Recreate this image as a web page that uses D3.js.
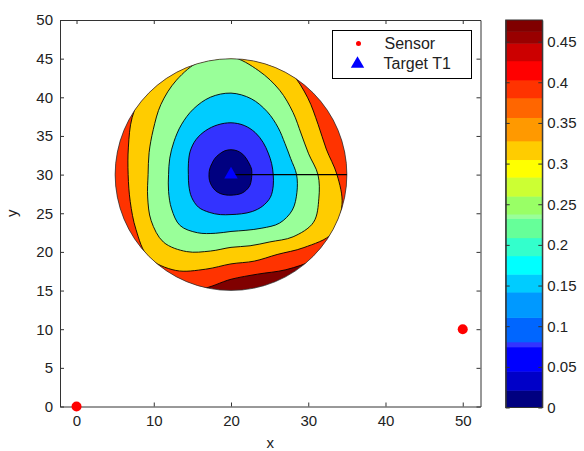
<!DOCTYPE html>
<html>
<head>
<meta charset="utf-8">
<script src="https://cdn.jsdelivr.net/npm/d3@7"></script>
<style>
  body { margin: 0; background: #fff; }
  text { font-family: "Liberation Sans", Arial, Helvetica, sans-serif; fill: #222; }
</style>
</head>
<body>
<svg id="chart" width="584" height="451"></svg>
<script>
// ---- data -------------------------------------------------------------
const xTicks = [0, 10, 20, 30, 40, 50];
const yTicks = [0, 5, 10, 15, 20, 25, 30, 35, 40, 45, 50];
const cbarTicks = [0, 0.05, 0.1, 0.15, 0.2, 0.25, 0.3, 0.35, 0.4, 0.45];

const sensors = [{ x: 0, y: 0 }, { x: 50, y: 10 }];
const target = { x: 20, y: 30 };
const rangeSegment = { x1: 20, y1: 30, x2: 35, y2: 30 };
const regionRadius = 15;

// error field sampled on a polar grid around the target
const sampleAngles = [0, 15, 30, 45, 60, 75, 90, 105, 120, 135, 150, 165,
                      180, 195, 210, 225, 240, 255, 270, 285, 300, 315, 330, 345];
const sampleRadii = [0, 3, 6, 9, 11.5, 14, 16, 18];
const fieldValues = [
  [0, 0.087, 0.171, 0.247, 0.319, 0.399, 0.445, 0.491],
  [0, 0.085, 0.172, 0.265, 0.349, 0.430, 0.458, 0.499],
  [0, 0.085, 0.168, 0.264, 0.344, 0.420, 0.449, 0.488],
  [0, 0.082, 0.159, 0.245, 0.316, 0.389, 0.434, 0.479],
  [0, 0.077, 0.149, 0.225, 0.283, 0.349, 0.410, 0.468],
  [0, 0.074, 0.143, 0.210, 0.262, 0.314, 0.390, 0.452],
  [0, 0.073, 0.141, 0.205, 0.252, 0.291, 0.325, 0.390],
  [0, 0.074, 0.141, 0.209, 0.255, 0.292, 0.325, 0.390],
  [0, 0.077, 0.141, 0.220, 0.265, 0.308, 0.379, 0.450],
  [0, 0.079, 0.144, 0.232, 0.281, 0.339, 0.397, 0.468],
  [0, 0.082, 0.153, 0.249, 0.309, 0.369, 0.423, 0.483],
  [0, 0.082, 0.164, 0.259, 0.326, 0.397, 0.454, 0.511],
  [0, 0.082, 0.170, 0.262, 0.334, 0.411, 0.468, 0.525],
  [0, 0.081, 0.166, 0.252, 0.321, 0.407, 0.468, 0.529],
  [0, 0.081, 0.159, 0.237, 0.297, 0.383, 0.451, 0.519],
  [0, 0.081, 0.157, 0.226, 0.288, 0.358, 0.415, 0.490],
  [0, 0.083, 0.166, 0.242, 0.312, 0.379, 0.449, 0.524],
  [0, 0.086, 0.175, 0.270, 0.355, 0.430, 0.488, 0.546],
  [0, 0.088, 0.182, 0.297, 0.388, 0.486, 0.500, 0.520],
  [0, 0.087, 0.179, 0.292, 0.386, 0.498, 0.510, 0.530],
  [0, 0.084, 0.170, 0.266, 0.375, 0.461, 0.528, 0.550],
  [0, 0.083, 0.162, 0.237, 0.316, 0.416, 0.485, 0.520],
  [0, 0.083, 0.159, 0.230, 0.290, 0.356, 0.415, 0.500],
  [0, 0.086, 0.165, 0.238, 0.305, 0.368, 0.418, 0.505]
];

// contour levels and the colour of each filled band (lowest band first)
const contourLevels = [0.078, 0.156, 0.234, 0.312, 0.39, 0.468];
const bandColors = ["#000080", "#3333FF", "#00CCFF", "#99FF99", "#FFCC00", "#FF3300", "#800000"];

// colour bar: band edges (value units) and colours, bottom to top
const cbarMax = 0.4766;
const cbarEdges = [0, 0.0213, 0.0447, 0.0746, 0.0808, 0.1108, 0.142, 0.164, 0.1867, 0.2089,
                   0.2328, 0.238, 0.260, 0.2834, 0.305, 0.328, 0.3567, 0.381, 0.403, 0.4265,
                   0.448, 0.4626, 0.4766];
const cbarColors = ["#000080", "#0000C8", "#0000FF", "#3333FF", "#0066FF", "#0099FF", "#00CCFF",
                    "#00FFFF", "#33FFCC", "#66FF99", "#99FF99", "#99FF66", "#CCFF33", "#FFFF00",
                    "#FFCC00", "#FF9900", "#FF6600", "#FF3300", "#FF0000", "#CC0000", "#990000",
                    "#800000"];

// ---- layout -----------------------------------------------------------
const svg = d3.select("#chart");
const plot = { left: 60, right: 480.5, top: 20, bottom: 406.5 };
const cbar = { left: 505.7, right: 542.3, top: 20, bottom: 407.5 };

const x = d3.scaleLinear().domain([-2.14, 52.3]).range([plot.left, plot.right]);
const y = d3.scaleLinear().domain([0, 50]).range([plot.bottom, plot.top]);
const c = d3.scaleLinear().domain([0, cbarMax]).range([cbar.bottom, cbar.top]);

svg.append("rect").attr("width", 584).attr("height", 451).attr("fill", "#fff");
svg.append("rect")
  .attr("x", plot.left).attr("y", plot.top)
  .attr("width", plot.right - plot.left).attr("height", plot.bottom - plot.top)
  .attr("fill", "#fff");

// ---- filled contours inside the sensing disc --------------------------
const cxPx = x(target.x), cyPx = y(target.y);
const rPx = x(target.x + regionRadius) - x(target.x);

svg.append("clipPath").attr("id", "disc")
  .append("circle").attr("cx", cxPx).attr("cy", cyPx).attr("r", rPx);

function levelRadius(vals, level) {
  for (let i = 1; i < sampleRadii.length; i++) {
    if (vals[i] >= level) {
      const t = (level - vals[i - 1]) / (vals[i] - vals[i - 1]);
      return sampleRadii[i - 1] + t * (sampleRadii[i] - sampleRadii[i - 1]);
    }
  }
  return sampleRadii[sampleRadii.length - 1];
}

function levelPoints(level) {
  return sampleAngles.map((a, j) => {
    const r = levelRadius(fieldValues[j], level);
    const th = a * Math.PI / 180;
    return [target.x + r * Math.cos(th), target.y + r * Math.sin(th)];
  });
}

const contourPath = d3.line()
  .x(d => x(d[0])).y(d => y(d[1]))
  .curve(d3.curveCatmullRomClosed.alpha(0.5));

const field = svg.append("g").attr("clip-path", "url(#disc)");
field.append("circle").attr("cx", cxPx).attr("cy", cyPx).attr("r", rPx)
  .attr("fill", bandColors[contourLevels.length]);

const levelData = contourLevels.map((L, k) => ({ level: L, k, pts: levelPoints(L) }));

field.selectAll("path.band")
  .data(levelData.slice().reverse())
  .join("path")
  .attr("class", "band")
  .attr("d", d => contourPath(d.pts))
  .attr("fill", d => bandColors[d.k]);

field.selectAll("path.iso")
  .data(levelData)
  .join("path")
  .attr("class", "iso")
  .attr("d", d => contourPath(d.pts))
  .attr("fill", "none")
  .attr("stroke", "#000")
  .attr("stroke-width", 0.9);

svg.append("circle").attr("cx", cxPx).attr("cy", cyPx).attr("r", rPx)
  .attr("fill", "none").attr("stroke", "#333").attr("stroke-width", 0.8);

// range segment and target
svg.append("line")
  .attr("x1", x(rangeSegment.x1)).attr("y1", y(rangeSegment.y1))
  .attr("x2", x(rangeSegment.x2)).attr("y2", y(rangeSegment.y2))
  .attr("stroke", "#000").attr("stroke-width", 1.2);

const tri = d3.symbol().type(d3.symbolTriangle).size(78);
svg.append("path").attr("d", tri())
  .attr("transform", `translate(${x(target.x)},${y(target.y)})`)
  .attr("fill", "#0000FF");

// ---- axes ---------------------------------------------------------------
function styleAxis(g) {
  g.selectAll("path.domain").attr("stroke", "#333");
  g.selectAll(".tick line").attr("stroke", "#333");
  g.selectAll(".tick text").attr("fill", "#222").style("font-size", "15px")
    .style("font-family", '"Liberation Sans", Arial, sans-serif');
}

svg.append("g").attr("transform", `translate(0,${plot.bottom})`)
  .call(d3.axisBottom(x).tickValues(xTicks).tickSizeInner(-4).tickSizeOuter(0).tickPadding(9))
  .call(styleAxis);
svg.append("g").attr("transform", `translate(0,${plot.top})`)
  .call(d3.axisTop(x).tickValues(xTicks).tickSizeInner(-4).tickSizeOuter(0).tickFormat(""))
  .call(styleAxis);
svg.append("g").attr("transform", `translate(${plot.left},0)`)
  .call(d3.axisLeft(y).tickValues(yTicks).tickSizeInner(-4).tickSizeOuter(0).tickPadding(7))
  .call(styleAxis);
svg.append("g").attr("transform", `translate(${plot.right},0)`)
  .call(d3.axisRight(y).tickValues(yTicks).tickSizeInner(-4).tickSizeOuter(0).tickFormat(""))
  .call(styleAxis);

svg.append("text").attr("x", (plot.left + plot.right) / 2).attr("y", 448)
  .attr("text-anchor", "middle").style("font-size", "15px").text("x");
svg.append("text")
  .attr("transform", `translate(17,${(plot.top + plot.bottom) / 2}) rotate(-90)`)
  .attr("text-anchor", "middle").style("font-size", "15px").text("y");

// sensors sit on top of the axes
svg.selectAll("circle.sensor").data(sensors).join("circle")
  .attr("class", "sensor")
  .attr("cx", d => x(d.x)).attr("cy", d => y(d.y)).attr("r", 5)
  .attr("fill", "#FF0000");

// ---- legend ---------------------------------------------------------------
const legend = svg.append("g").attr("transform", "translate(332.5,30.5)");
legend.append("rect").attr("width", 139).attr("height", 48)
  .attr("fill", "#fff").attr("stroke", "#000").attr("stroke-width", 1);
legend.append("circle").attr("cx", 26).attr("cy", 13).attr("r", 2.5).attr("fill", "#FF0000");
legend.append("text").attr("x", 52).attr("y", 18.5).style("font-size", "16px").text("Sensor");
legend.append("path").attr("d", tri()).attr("transform", "translate(25,33.5)").attr("fill", "#0000FF");
legend.append("text").attr("x", 51).attr("y", 38.5).style("font-size", "16px").text("Target T1");

// ---- colour bar -------------------------------------------------------------
const cb = svg.append("g");
cb.selectAll("rect.swatch")
  .data(cbarColors.map((col, i) => ({ col, lo: cbarEdges[i], hi: cbarEdges[i + 1] })))
  .join("rect")
  .attr("class", "swatch")
  .attr("x", cbar.left).attr("width", cbar.right - cbar.left)
  .attr("y", d => c(d.hi)).attr("height", d => c(d.lo) - c(d.hi) + 0.5)
  .attr("fill", d => d.col);

cb.append("g").attr("transform", `translate(${cbar.right},0)`)
  .call(d3.axisRight(c).tickValues(cbarTicks).tickSizeInner(-4).tickSizeOuter(0).tickPadding(5)
    .tickFormat(d3.format("")))
  .call(styleAxis);
cb.append("g").attr("transform", `translate(${cbar.left},0)`)
  .call(d3.axisLeft(c).tickValues(cbarTicks).tickSizeInner(-4).tickSizeOuter(0).tickFormat(""))
  .call(styleAxis);
cb.append("rect")
  .attr("x", cbar.left).attr("y", cbar.top)
  .attr("width", cbar.right - cbar.left).attr("height", cbar.bottom - cbar.top)
  .attr("fill", "none").attr("stroke", "#333").attr("stroke-width", 1);
</script>
</body>
</html>
